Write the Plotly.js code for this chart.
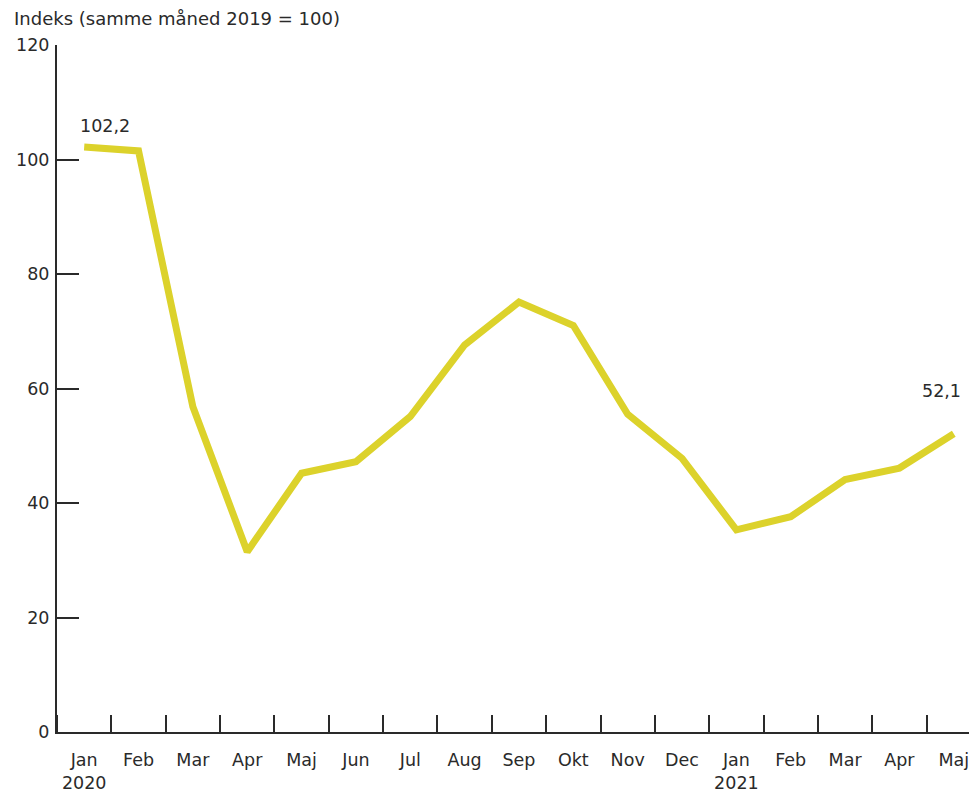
<!DOCTYPE html>
<html>
<head>
<meta charset="utf-8">
<script src="https://cdn.plot.ly/plotly-3.0.1.min.js"></script>
<style>html,body{margin:0;padding:0;background:#fff;}#chart{width:969px;height:792px;}</style>
</head>
<body>
<div id="chart"></div>
<script>
var monthLabels = ["Jan<br>2020","Feb","Mar","Apr","Maj","Jun","Jul","Aug","Sep","Okt","Nov","Dec","Jan<br>2021","Feb","Mar","Apr","Maj"];
var indexValues = [102.2,101.5,56.8,31.5,45.2,47.2,55.1,67.6,75.1,71.0,55.5,47.8,35.3,37.6,44.1,46.1,52.1];
var yTicks = [0,20,40,60,80,100,120];
var yTitle = "Indeks (samme måned 2019 = 100)";

var xIdx = monthLabels.map(function(_, i){ return i; });
var last = indexValues.length - 1;
var fnt = "DejaVu Sans, sans-serif";
var fs = 17.5;
var axisColor = "#2a2a2a";

var trace = {
  x: xIdx, y: indexValues, type: "scatter", mode: "lines",
  line: {color: "#DCD22B", width: 7, shape: "linear"},
  hoverinfo: "skip"
};

function fmt(v){ return v.toFixed(1).replace(".", ","); }

var layout = {
  width: 969, height: 792,
  margin: {l: 57, r: 0, t: 45, b: 60, pad: 0},
  paper_bgcolor: "#fff", plot_bgcolor: "#fff",
  showlegend: false,
  font: {family: fnt, size: fs, color: "#2a2a2a"},
  title: {text: yTitle, x: 14/969, xanchor: "left", xref: "container", y: 1 - 19/792, yanchor: "middle", yref: "container", font: {family: fnt, size: 18, color: "#2a2a2a"}},
  xaxis: {
    range: [-0.5, last + 0.28], fixedrange: true,
    tickmode: "array", tickvals: xIdx, ticktext: monthLabels,
    ticks: "", showgrid: false, zeroline: false,
    showline: true, linecolor: axisColor, linewidth: 2,
    ticklabelstandoff: 11,
    ticklabeloverflow: "allow",
    tickfont: {family: fnt, size: fs, color: "#2a2a2a"},
    minor: {tickmode: "linear", tick0: 0.5, dtick: 1, ticks: "inside", ticklen: 17, tickwidth: 2, tickcolor: axisColor, showgrid: false}
  },
  yaxis: {
    range: [0, 120], fixedrange: true,
    tickmode: "array", tickvals: yTicks, ticktext: yTicks.map(String),
    ticks: "inside", ticklen: 22, tickwidth: 2, tickcolor: axisColor,
    showgrid: false, zeroline: false,
    showline: true, linecolor: axisColor, linewidth: 2,
    ticklabelstandoff: 2,
    tickfont: {family: fnt, size: fs, color: "#2a2a2a"}
  },
  annotations: [
    {x: 0, y: indexValues[0], xref: "x", yref: "y", text: fmt(indexValues[0]), showarrow: false, xshift: 21, yshift: 21, font: {family: fnt, size: fs, color: "#2a2a2a"}},
    {x: last, y: indexValues[last], xref: "x", yref: "y", text: fmt(indexValues[last]), showarrow: false, xshift: -12, yshift: 43, font: {family: fnt, size: fs, color: "#2a2a2a"}}
  ]
};

Plotly.newPlot("chart", [trace], layout, {displayModeBar: false, staticPlot: true});
</script>
</body>
</html>
